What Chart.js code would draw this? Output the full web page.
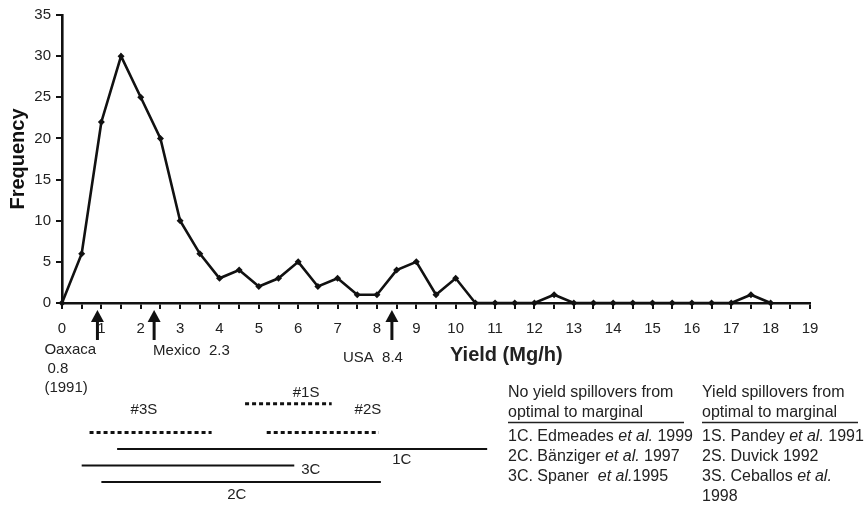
<!DOCTYPE html>
<html>
<head>
<meta charset="utf-8">
<script src="https://cdn.jsdelivr.net/npm/chart.js@4.4.1/dist/chart.umd.min.js"></script>
<style>
html,body{margin:0;padding:0;background:#fff;}
#wrap{width:865px;height:508px;position:relative;}
</style>
</head>
<body>
<div id="wrap"><canvas id="c" width="865" height="508"></canvas></div>
<script>
// ---- Data ----
const yieldBins = [0,0.5,1,1.5,2,2.5,3,3.5,4,4.5,5,5.5,6,6.5,7,7.5,8,8.5,9,9.5,10,10.5,11,11.5,12,12.5,13,13.5,14,14.5,15,15.5,16,16.5,17,17.5,18];
const frequency = [0,6,22,30,25,20,10,6,3,4,2,3,5,2,3,1,1,4,5,1,3,0,0,0,0,1,0,0,0,0,0,0,0,0,0,1,0];
const yTicks = [0,5,10,15,20,25,30,35];
const xTickLabels = [0,1,2,3,4,5,6,7,8,9,10,11,12,13,14,15,16,17,18,19];

// regional average yields (arrows)
const regionNames  = ['Oaxaca', 'Mexico', 'USA'];
const regionLabels = [['Oaxaca','0.8','(1991)'], ['Mexico  2.3'], ['USA  8.4']];
const regionArrowX = [0.9, 2.34, 8.38];

// yield ranges of studies (row index: higher = higher up)
const rangeNames   = ['#1S','#3S','#2S','1C','3C','2C'];
const rangeFrom    = [4.65, 0.7, 5.2, 1.4, 0.5, 1.0];
const rangeTo      = [6.85, 3.8, 8.05, 10.8, 5.9, 8.1];
const rangeRow     = [5.75, 4, 4, 3, 2, 1];
const rangeSpill   = [true, true, true, false, false, false];
const rangeLabelX  = [6.2, 2.08, 7.77, 8.63, 6.32, 4.44];
const rangeLabelRow= [6.39, 5.36, 5.36, 2.33, 1.73, 0.21];

// notes (text segments: [text, italic])
const notesLeft = [
  [['No yield spillovers from',0]],
  [['optimal to marginal',0]],
  [['1C. Edmeades ',0],['et al.',1],[' 1999',0]],
  [['2C. B\u00e4nziger ',0],['et al.',1],[' 1997',0]],
  [['3C. Spaner  ',0],['et al.',1],['1995',0]]
];
const notesRight = [
  [['Yield spillovers from',0]],
  [['optimal to marginal',0]],
  [['1S. Pandey ',0],['et al.',1],[' 1991',0]],
  [['2S. Duvick 1992',0]],
  [['3S. Ceballos ',0],['et al.',1]],
  [['1998',0]]
];

const FONT = '"Liberation Sans", Arial, Helvetica, sans-serif';
const TXT = '#222';

const rangeDatasets = rangeNames.map((n, i) => ({
  label: n,
  type: 'line',
  xAxisID: 'x',
  yAxisID: 'yr',
  data: [{x: rangeFrom[i], y: rangeRow[i]}, {x: rangeTo[i], y: rangeRow[i]}],
  borderColor: '#111',
  borderWidth: rangeSpill[i] ? 3 : 2,
  borderDash: rangeSpill[i] ? [4, 3] : [],
  borderCapStyle: 'butt',
  pointRadius: 0,
  clip: false,
  tension: 0
}));

const annotations = {
  id: 'annotations',
  afterDraw(chart) {
    const ctx = chart.ctx;
    const xs = chart.scales.x, yr = chart.scales.yr;
    const axisY = chart.chartArea.bottom;
    ctx.save();
    // arrows
    ctx.fillStyle = '#111';
    ctx.strokeStyle = '#111';
    regionArrowX.forEach((v, i) => {
      const px = xs.getPixelForValue(v);
      const top = axisY + 7, headH = 12, headW = 13, bottom = axisY + 37;
      ctx.beginPath();
      ctx.moveTo(px, top);
      ctx.lineTo(px - headW / 2, top + headH);
      ctx.lineTo(px + headW / 2, top + headH);
      ctx.closePath();
      ctx.fill();
      ctx.lineWidth = 3;
      ctx.beginPath();
      ctx.moveTo(px, top + headH - 1);
      ctx.lineTo(px, bottom);
      ctx.stroke();
    });
    // region labels
    ctx.fillStyle = TXT;
    ctx.font = '15px ' + FONT;
    ctx.textBaseline = 'middle';
    ctx.textAlign = 'left';
    const oax = xs.getPixelForValue(regionArrowX[0]);
    regionLabels[0].forEach((t, k) => {
      ctx.fillText(t, oax - 53 + (k === 1 ? 3 : 0), axisY + 47 + k * 19);
    });
    ctx.fillText(regionLabels[1][0], xs.getPixelForValue(regionArrowX[1]) - 1, axisY + 48);
    ctx.fillText(regionLabels[2][0], xs.getPixelForValue(regionArrowX[2]) - 49, axisY + 55);
    // x axis title
    ctx.font = 'bold 20px ' + FONT;
    ctx.fillText('Yield (Mg/h)', 450, axisY + 52);
    // range labels
    ctx.font = '15px ' + FONT;
    ctx.textAlign = 'center';
    rangeNames.forEach((n, i) => {
      ctx.fillText(n, xs.getPixelForValue(rangeLabelX[i]), yr.getPixelForValue(rangeLabelRow[i]));
    });
    // notes
    ctx.textAlign = 'left';
    const lineY = [393, 413, 437, 457, 477, 497];
    const drawNotes = (notes, x0, ulEnd) => {
      notes.forEach((segs, li) => {
        let x = x0;
        segs.forEach(([t, it]) => {
          ctx.font = (it ? 'italic ' : '') + '16px ' + FONT;
          ctx.fillText(t, x, lineY[li]);
          x += ctx.measureText(t).width;
        });
        if (li === 1) {
          ctx.strokeStyle = '#222';
          ctx.lineWidth = 1.5;
          ctx.beginPath();
          ctx.moveTo(x0, lineY[li] + 9.5);
          ctx.lineTo(ulEnd, lineY[li] + 9.5);
          ctx.stroke();
        }
      });
    };
    drawNotes(notesLeft, 508, 684);
    drawNotes(notesRight, 702, 858);
    ctx.restore();
  }
};

new Chart(document.getElementById('c'), {
  type: 'line',
  data: {
    datasets: [{
      label: 'Frequency',
      data: yieldBins.map((x, i) => ({x: x, y: frequency[i]})),
      borderColor: '#111',
      backgroundColor: '#111',
      borderWidth: 2.6,
      pointStyle: 'rectRot',
      pointRadius: 3.5,
      pointBorderWidth: 0,
      tension: 0,
      clip: false
    }].concat(rangeDatasets)
  },
  options: {
    responsive: false,
    animation: false,
    events: [],
    layout: {padding: {left: 0, right: 55, top: 15, bottom: 175}},
    plugins: {legend: {display: false}, tooltip: {enabled: false}},
    scales: {
      x: {
        type: 'linear',
        min: 0, max: 19,
        afterFit: s => { s.height = 30; },
        afterBuildTicks: s => {
          const t = [];
          for (let v = 0; v <= 19; v += 0.5) t.push({value: v});
          s.ticks = t;
        },
        ticks: {
          autoSkip: false, maxRotation: 0, padding: 11,
          color: TXT, font: {family: FONT, size: 15},
          callback: v => xTickLabels.includes(v) ? String(v) : ''
        },
        grid: {display: true, drawOnChartArea: false, drawTicks: true, tickLength: 6, color: '#111', lineWidth: 2},
        border: {display: true, color: '#111', width: 2.6}
      },
      y: {
        type: 'linear',
        min: 0, max: 35,
        afterFit: s => { s.width = 62; },
        afterBuildTicks: s => { s.ticks = yTicks.map(v => ({value: v})); },
        ticks: {padding: 5, color: TXT, font: {family: FONT, size: 15}},
        grid: {display: true, drawOnChartArea: false, drawTicks: true, tickLength: 6, color: '#111', lineWidth: 2},
        border: {display: true, color: '#111', width: 2.6},
        title: {display: true, text: 'Frequency', color: '#111', font: {family: FONT, size: 20, weight: 'bold'}, padding: {top: 6, bottom: 0}}
      },
      yr: {
        type: 'linear',
        display: false,
        min: 11.85, max: 29.3
      }
    }
  },
  plugins: [annotations]
});
</script>
</body>
</html>
